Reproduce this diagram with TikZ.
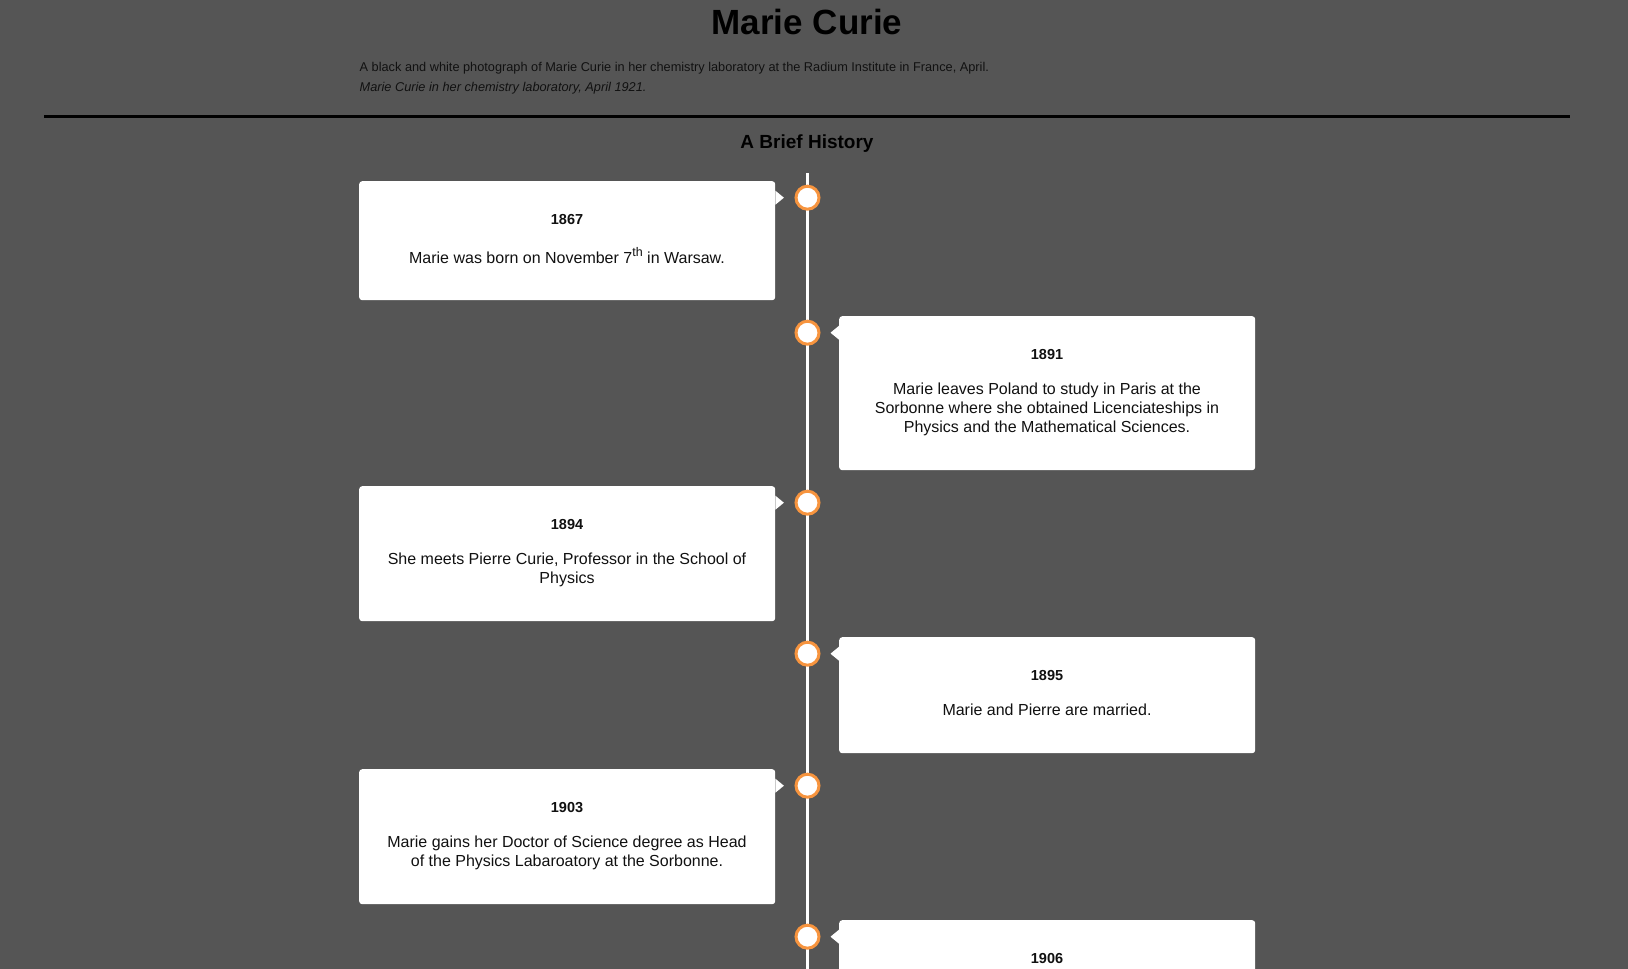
\documentclass[tikz,border=0pt]{standalone}
\usepackage{fontspec}
\setmainfont{Liberation Sans}
\definecolor{pagebg}{HTML}{555555}
\definecolor{ringorange}{HTML}{F7943E}
\definecolor{boxtext}{HTML}{111111}
\tikzset{
  eventbox/.style={fill=white, rounded corners=3pt, inner sep=0pt, minimum width=416pt, anchor=north west},
  pointer/.style={fill=white},
  dot/.style={circle, fill=white, draw=ringorange, line width=3pt, minimum size=23pt, inner sep=0pt},
  yeartext/.style={anchor=base, inner sep=0pt, text=boxtext, font=\fontsize{14.5}{17}\selectfont\bfseries},
  bodytext/.style={anchor=base, inner sep=0pt, text=boxtext, font=\fontsize{16}{19}\selectfont},
  captext/.style={anchor=base west, inner sep=0pt, text=boxtext, font=\fontsize{12.75}{15}\selectfont},
  timeline/.style={white, line width=3.5pt},
}
\begin{document}
\begin{tikzpicture}[x=1pt,y=-1pt]
\useasboundingbox (0,0) rectangle (1628,969);
\clip (0,0) rectangle (1628,969);
\fill[pagebg] (0,0) rectangle (1628,969);

% header
\node[anchor=base, inner sep=0pt, font=\fontsize{35}{42}\selectfont\bfseries] (title) at (807,34.3) {Marie Curie};
\node[captext] (cap1) at (359.5,71.3) {A black and white photograph of Marie Curie in her chemistry laboratory at the Radium Institute in France, April.};
\node[captext, font=\fontsize{12.75}{15}\selectfont\itshape] (cap2) at (359.5,91.7) {Marie Curie in her chemistry laboratory, April 1921.};
\coordinate (ruleL) at (44,116.3);
\coordinate (ruleR) at (1570,116.3);
\draw[black, line width=3pt] (ruleL) -- (ruleR);
\node[anchor=base, inner sep=0pt, font=\fontsize{19}{22}\selectfont\bfseries] (hist) at (807,148.3) {A Brief History};

% timeline
\coordinate (lineTop) at (807.5,173);
\coordinate (lineBot) at (807.5,975);
\draw[timeline] (lineTop) -- (lineBot);

% boxes
\node[eventbox, minimum height=119pt] (b1) at (359,181) {};
\node[eventbox, minimum height=154pt] (b2) at (839,316) {};
\node[eventbox, minimum height=135pt] (b3) at (359,486) {};
\node[eventbox, minimum height=116pt] (b4) at (839,637) {};
\node[eventbox, minimum height=135pt] (b5) at (359,769) {};
\node[eventbox, minimum height=135pt] (b6) at (839,920) {};

% dots
\node[dot] (c1) at (807.5,197.7) {};
\node[dot] (c2) at (807.5,332.7) {};
\node[dot] (c3) at (807.5,502.7) {};
\node[dot] (c4) at (807.5,653.7) {};
\node[dot] (c5) at (807.5,785.7) {};
\node[dot] (c6) at (807.5,936.7) {};

% pointers
\foreach \b/\c in {b1/c1,b3/c3,b5/c5}{
  \fill[pointer] (\b.east |- \c) ++(0,-7) -- ++(8.5,7) -- ++(-8.5,7) -- cycle;
}
\foreach \b/\c in {b2/c2,b4/c4,b6/c6}{
  \fill[pointer] (\b.west |- \c) ++(0,-7) -- ++(-8.5,7) -- ++(8.5,7) -- cycle;
}

% texts
\node[yeartext] (y1) at (567,224) {1867};
\node[bodytext] (t1) at (567,263.3) {Marie was born on November 7\raisebox{7pt}{\fontsize{12.5}{12.5}\selectfont th} in Warsaw.};

\node[yeartext] (y2) at (1047,359) {1891};
\node[bodytext] (t2a) at (1047,394) {Marie leaves Poland to study in Paris at the};
\node[bodytext] (t2b) at (1047,413) {Sorbonne where she obtained Licenciateships in};
\node[bodytext] (t2c) at (1047,432) {Physics and the Mathematical Sciences.};

\node[yeartext] (y3) at (567,529) {1894};
\node[bodytext] (t3a) at (567,564) {She meets Pierre Curie, Professor in the School of};
\node[bodytext] (t3b) at (567,583) {Physics};

\node[yeartext] (y4) at (1047,680) {1895};
\node[bodytext] (t4) at (1047,715) {Marie and Pierre are married.};

\node[yeartext] (y5) at (567,812) {1903};
\node[bodytext] (t5a) at (567,847) {Marie gains her Doctor of Science degree as Head};
\node[bodytext] (t5b) at (567,866) {of the Physics Labaroatory at the Sorbonne.};

\node[yeartext] (y6) at (1047,963) {1906};
\end{tikzpicture}
\end{document}
